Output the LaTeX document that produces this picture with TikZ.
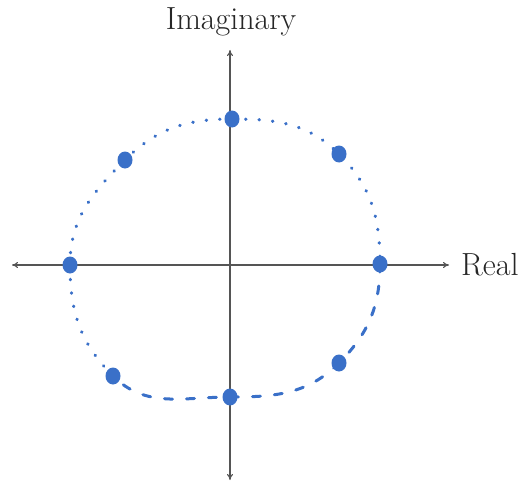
\documentclass[tikz,border=0pt]{standalone}
\usetikzlibrary{arrows.meta,shapes.geometric}
\definecolor{ptblue}{RGB}{58,112,200}
\definecolor{axisgray}{RGB}{85,85,85}
\begin{document}
\begin{tikzpicture}[x=1pt,y=1pt,
  axisline/.style={draw=axisgray,line width=1.1pt,{To[length=6pt,width=6pt]}-{To[length=6pt,width=6pt]}},
  lbl/.style={font=\fontsize{32}{38}\selectfont,text=black!85,inner sep=0pt},
  pt/.style={ellipse,fill=ptblue,minimum width=15pt,minimum height=17pt,inner sep=0pt},
  dotcurve/.style={draw=ptblue,line width=3.2pt,line cap=round,dash pattern=on 0.5pt off 13pt},
  dashcurve/.style={draw=ptblue,line width=3pt,line cap=round,dash pattern=on 8pt off 14pt}]
\useasboundingbox (0,0) rectangle (521,483);
% axes
\coordinate (xl) at (12,218);
\coordinate (xr) at (449,218);
\coordinate (yt) at (230,433);
\coordinate (yb) at (230,3);
\draw[axisline] (xl) -- (xr);
\draw[axisline] (yb) -- (yt);
\node[lbl] (im) at (231,461) {Imaginary};
\node[lbl,anchor=west] (re) at (461,218) {Real};
% points
\node[pt] (T) at (232,364) {};
\node[pt] (UR) at (339,329) {};
\node[pt] (R) at (380,219) {};
\node[pt] (LR) at (339,120) {};
\node[pt] (B) at (230,86) {};
\node[pt] (LL) at (113,107) {};
\node[pt] (L) at (70,218) {};
\node[pt] (UL) at (125,323) {};
% curve
\draw[dotcurve] (T.center) to[out=0,in=135] (UR.center) to[out=-45,in=90] (R.center);
\draw[dashcurve] (R.center) to[out=-90,in=45] (LR.center) to[out=-135,in=0] (B.center) to[out=180,in=-45] (LL.center);
\draw[dotcurve] (LL.center) to[out=135,in=-90] (L.center) to[out=90,in=-135] (UL.center) to[out=45,in=180] (T.center);
\end{tikzpicture}
\end{document}
